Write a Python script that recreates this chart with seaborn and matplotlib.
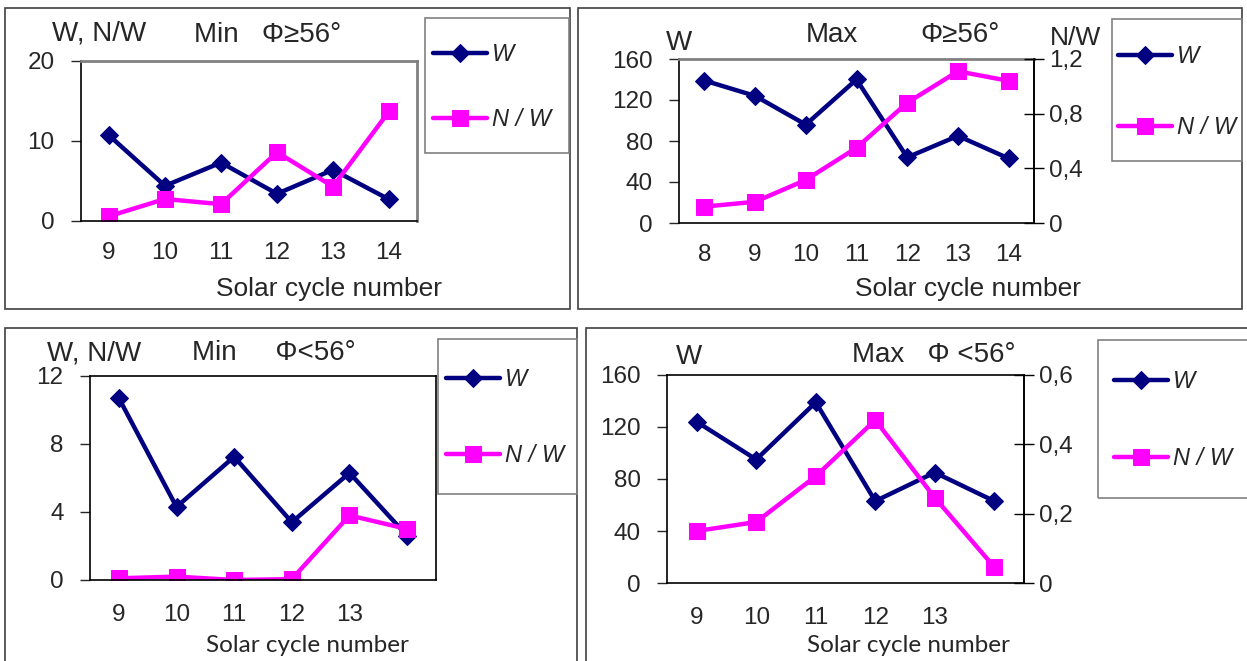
import matplotlib
matplotlib.use("Agg")
import matplotlib.pyplot as plt
from matplotlib.patches import Rectangle
import seaborn as sns
import pandas as pd

# values
cycles_hi_min = ['9', '10', '11', '12', '13', '14']
w_hi_min = [10.7, 4.4, 7.3, 3.4, 6.4, 2.7]
nw_hi_min = [0.6, 2.75, 2.1, 8.6, 4.3, 13.7]

cycles_hi_max = ['8', '9', '10', '11', '12', '13', '14']
w_hi_max = [139, 124, 96, 140, 64, 85, 63]
nw_hi_max = [0.12, 0.155, 0.315, 0.55, 0.88, 1.11, 1.04]

cycles_lo = ['9', '10', '11', '12', '13', '']
w_lo_min = [10.7, 4.3, 7.25, 3.4, 6.3, 2.6]
nw_lo_min = [0.1, 0.2, 0.0, 0.05, 3.8, 3.0]
w_lo_max = [124, 95, 139, 63, 85, 63]
nw_lo_max = [0.15, 0.176, 0.308, 0.47, 0.246, 0.046]

NAVY = '#000080'
PINK = '#FF00FF'
GRAY = '#808080'

sns.set_style("white")
plt.rcParams['font.family'] = ['Liberation Sans', 'DejaVu Sans']

W_PX, H_PX = 1247, 661
fig = plt.figure(figsize=(W_PX / 100, H_PX / 100), dpi=100)


def fx(px):
    return px / W_PX


def fy(py):
    return 1 - py / H_PX


def box(x0, y0, x1, y1, ec='#404040'):
    fig.add_artist(Rectangle((fx(x0), fy(y1)), fx(x1) - fx(x0), (y1 - y0) / H_PX,
                             transform=fig.transFigure, fill=False, ec=ec, lw=1.2))


def text(x, y, s, size=20, **kw):
    fig.text(fx(x), fy(y), s, fontsize=size, va='center', **kw)


def panel(area, labels, w, nw, yticks, ytl, nw_ticks=None, nw_tl=None,
          gray_spines=(), legend_at=None, spacing=1.8, xpad=15):
    x0, y0, x1, y1 = area
    ax = fig.add_axes([fx(x0), fy(y1), fx(x1) - fx(x0), (y1 - y0) / H_PX])
    n = len(labels)
    df = pd.DataFrame({'pos': [i + 0.5 for i in range(n)], 'W': w, 'NW': nw})
    sns.lineplot(data=df, x='pos', y='W', ax=ax, color=NAVY, linewidth=3.2,
                 marker='D', markersize=9.5, markeredgecolor=NAVY, legend=False)
    tgt = ax
    if nw_ticks is not None:
        tgt = ax.twinx()
    sns.lineplot(data=df, x='pos', y='NW', ax=tgt, color=PINK, linewidth=3.2,
                 marker='s', markersize=11, markeredgecolor=PINK, legend=False)

    ax.set_xlim(0, n)
    ax.set_xticks(range(n + 1), [''] * (n + 1))
    ax.set_xticks(df['pos'], labels, minor=True)
    ax.tick_params(axis='x', which='major', direction='out', length=8, width=1, color='black')
    ax.tick_params(axis='x', which='minor', length=0, pad=xpad, labelsize=17.5)
    ax.set_ylim(yticks[0], yticks[-1])
    ax.set_yticks(yticks, ytl)
    ax.tick_params(axis='y', direction='out', length=7, width=1, pad=12, labelsize=17.5, left=True)
    ax.set_xlabel('')
    ax.set_ylabel('')
    for s in ax.spines.values():
        s.set_color('black')
        s.set_linewidth(1.2)
    for s in gray_spines:
        ax.spines[s].set_color(GRAY)
        ax.spines[s].set_linewidth(2)

    if nw_ticks is not None:
        tgt.set_ylim(nw_ticks[0], nw_ticks[-1])
        tgt.set_yticks(nw_ticks, nw_tl)
        tgt.tick_params(axis='y', direction='inout', length=14, width=1, pad=4,
                        labelsize=17.5, right=True, color='black')
        tgt.set_ylabel('')
        for s in ('top', 'left', 'bottom'):
            tgt.spines[s].set_visible(False)
        tgt.spines['right'].set_color('black')
        tgt.spines['right'].set_linewidth(1.2)

    lx, ly = legend_at
    handles = [ax.get_lines()[0], tgt.get_lines()[-1]]
    fig.legend(handles, ['W', 'N / W'], loc='upper left',
               bbox_to_anchor=(fx(lx), fy(ly)), frameon=False,
               prop={'size': 17, 'style': 'italic'}, handlelength=2.3,
               handletextpad=0.2, labelspacing=spacing, borderpad=0, borderaxespad=0)
    return ax


# top left: Min, phi >= 56
box(5, 8, 570, 309)
panel((81, 61, 417, 221), cycles_hi_min, w_hi_min, nw_hi_min,
      [0, 10, 20], ['0', '10', '20'], gray_spines=('top', 'right'),
      legend_at=(433, 43), spacing=1.8)
box(425, 18, 569, 153, ec=GRAY)
text(52, 34, 'W, N/W')
text(194, 35, 'Min   \u03a6\u226556\u00b0')
text(329, 289, 'Solar cycle number', size=19, ha='center')

# top right: Max, phi >= 56
box(578, 8, 1242, 309)
panel((679, 59, 1034, 223), cycles_hi_max, w_hi_max, nw_hi_max,
      [0, 40, 80, 120, 160], ['0', '40', '80', '120', '160'],
      nw_ticks=[0, 0.4, 0.8, 1.2], nw_tl=['0', '0,4', '0,8', '1,2'],
      gray_spines=('top',), legend_at=(1118, 45), spacing=2.05)
box(1112, 19, 1242, 161, ec=GRAY)
text(666, 43, 'W')
text(806, 35, 'Max')
text(920, 35, '\u03a6\u226556\u00b0')
text(1050, 38, 'N/W', size=19)
text(968, 289, 'Solar cycle number', size=19, ha='center')

# bottom left: Min, phi < 56
box(5, 328, 577, 670)
panel((90, 376, 436, 580), cycles_lo, w_lo_min, nw_lo_min,
      [0, 4, 8, 12], ['0', '4', '8', '12'], legend_at=(446, 368),
      spacing=2.26, xpad=17)
box(438, 339, 577, 494, ec=GRAY)
text(47, 353, 'W, N/W')
text(192, 353, 'Min     \u03a6<56\u00b0')
fig.text(fx(307), fy(645), 'Solar cycle number', fontsize=17.5, ha='center', va='center',
         family=['Lato', 'DejaVu Sans'])

# bottom right: Max, phi < 56
box(586, 328, 1260, 670)
panel((667, 375, 1024, 583), cycles_lo, w_lo_max, nw_lo_max,
      [0, 40, 80, 120, 160], ['0', '40', '80', '120', '160'],
      nw_ticks=[0, 0.2, 0.4, 0.6], nw_tl=['0', '0,2', '0,4', '0,6'],
      legend_at=(1114, 370), spacing=2.3, xpad=17)
box(1098, 340, 1260, 498, ec=GRAY)
text(676, 357, 'W')
text(852, 355, 'Max   \u03a6 <56\u00b0')
fig.text(fx(908), fy(645), 'Solar cycle number', fontsize=17.5, ha='center', va='center',
         family=['Lato', 'DejaVu Sans'])

fig.savefig('out.png', dpi=100)
